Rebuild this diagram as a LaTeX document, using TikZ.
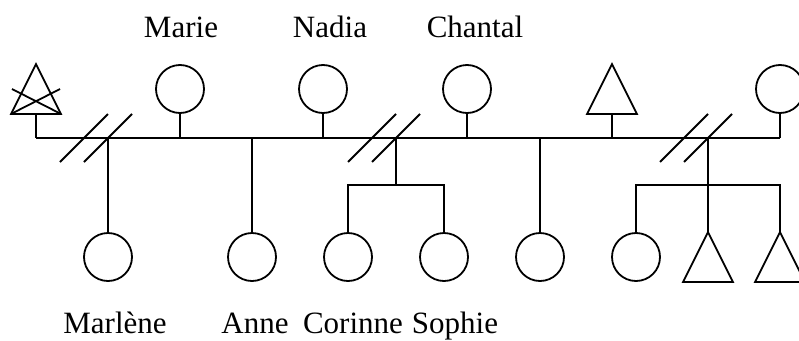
\documentclass[tikz,border=0pt]{standalone}
\usepackage{fontspec}
\setmainfont{Liberation Serif}
\usetikzlibrary{calc}
\begin{document}
\begin{tikzpicture}[x=1pt,y=-1pt,line width=1.8pt,line join=miter,
  fem/.style={circle,draw,minimum size=48pt,inner sep=0pt},
  male/.style={rectangle,minimum width=48pt,minimum height=48pt,inner sep=0pt},
  lbl/.style={font=\fontsize{31}{36}\selectfont,anchor=base,inner sep=0pt},
  slash/.style={line width=1.8pt}]
\useasboundingbox (0,0) rectangle (799,340);
% top row
\node[male] (p0) at (36,89) {};
\node[fem] (p1) at (180,89) {};
\node[fem] (p2) at (323,89) {};
\node[fem] (p3) at (467,89) {};
\node[male] (p4) at (612,89) {};
\node[fem] (p5) at (780,89) {};
% bottom row
\node[fem] (c1) at (108,257) {};
\node[fem] (c2) at (252,257) {};
\node[fem] (c3) at (348,257) {};
\node[fem] (c4) at (444,257) {};
\node[fem] (c5) at (540,257) {};
\node[fem] (c6) at (636,257) {};
\node[male] (c7) at (708,257) {};
\node[male] (c8) at (780,257) {};
% triangle outlines for the male nodes
\foreach \m in {p0,p4,c7,c8}{
  \draw (\m.south west) -- (\m.north) -- (\m.south east) -- cycle;
}
% cross on deceased
\coordinate (x0b) at (60,89);
\coordinate (x0d) at (12,89);
\draw (p0.south west) -- (x0b);
\draw (p0.south east) -- (x0d);
% labels
\node[lbl] (l1) at (181,37) {Marie};
\node[lbl] (l2) at (330,37) {Nadia};
\node[lbl] (l3) at (475,37) {Chantal};
\node[lbl] (b1) at (115,333) {Marlène};
\node[lbl] (b2) at (255,333) {Anne};
\node[lbl] (b3) at (353,333) {Corinne};
\node[lbl] (b4) at (455,333) {Sophie};
% junctions on marriage line
\foreach \i/\x in {0/36,1/180,2/323,3/467,4/612,5/780}{
  \coordinate (j\i) at (\x,138);
}
\foreach \i in {0,...,5}{
  \draw (p\i.south) -- (j\i);
}
\draw (j0) -- (j5);
% descent lines
\coordinate (d1) at (108,138);
\coordinate (d2) at (252,138);
\coordinate (d3) at (396,138);
\coordinate (d4) at (540,138);
\coordinate (d5) at (708,138);
\draw (d1) -- (c1.north);
\draw (d2) -- (c2.north);
\draw (d4) -- (c5.north);
\coordinate (s3) at (396,185);
\coordinate (s3l) at (348,185);
\coordinate (s3r) at (444,185);
\draw (d3) -- (s3);
\draw (c3.north) -- (s3l) -- (s3r) -- (c4.north);
\coordinate (s5l) at (636,185);
\coordinate (s5r) at (780,185);
\draw (d5) -- (c7.north);
\draw (c6.north) -- (s5l) -- (s5r) -- (c8.north);
% divorce slashes
\foreach \cx in {84,108,372,396,684,708}{
  \draw[slash] ($(\cx,138)+(-24,24)$) -- ($(\cx,138)+(24,-24)$);
}
\end{tikzpicture}
\end{document}
